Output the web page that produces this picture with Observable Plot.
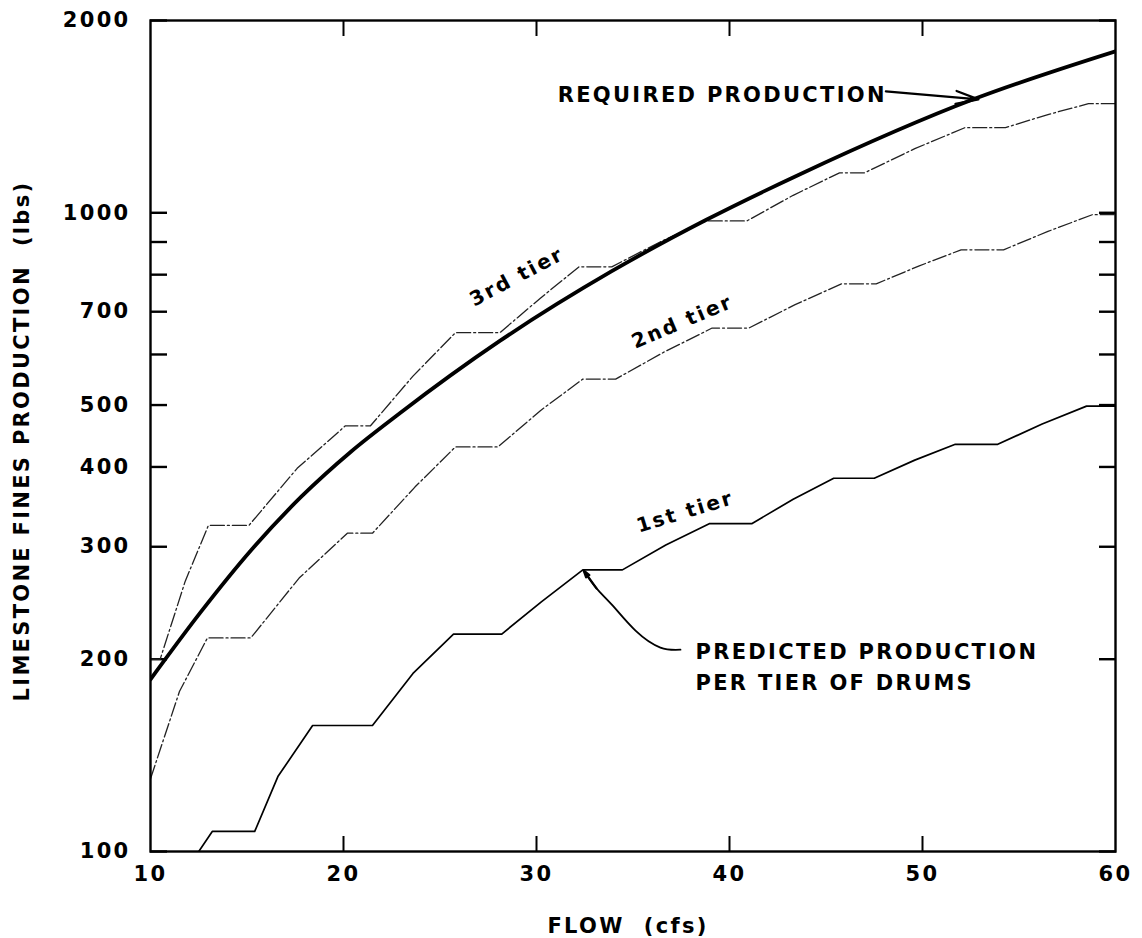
<!DOCTYPE html>
<html><head><meta charset="utf-8">
<script src="https://cdn.jsdelivr.net/npm/d3@7"></script>
<script src="https://cdn.jsdelivr.net/npm/@observablehq/plot@0.6"></script>
<style>
html,body{margin:0;padding:0;background:#fff;}
#chart svg{display:block;}
</style></head><body><div id="chart"></div>
<script>
// ---- data ----
const requiredFlow = [10, 12.6, 15.2, 17.8, 20.4, 22.9, 28.1, 33.9, 38.8, 43.6, 52.7, 60];
const requiredLbs  = [186, 237, 296, 359, 423, 485, 630, 810, 975, 1147, 1508, 1790];

const tier3Flow = [10, 10.5, 11.8, 13.0, 15.1, 17.6, 20.1, 21.4, 23.6, 25.8, 28.1, 30.2, 32.2, 33.9, 36.4, 38.8, 40.9, 43.3, 45.7, 47.0, 49.6, 52.2, 54.3, 56.5, 58.6, 60];
const tier3Lbs  = [200, 200, 265, 324, 324, 398, 464, 464, 555, 649, 649, 735, 823, 823, 900, 971, 971, 1065, 1155, 1155, 1260, 1359, 1359, 1425, 1482, 1482];

const tier2Flow = [10, 11.5, 12.95, 15.2, 17.7, 20.2, 21.5, 23.7, 25.8, 28.0, 30.2, 32.4, 34.1, 36.6, 39.1, 41.0, 43.4, 45.8, 47.6, 49.8, 52.0, 54.2, 56.5, 58.8, 60];
const tier2Lbs  = [130, 178, 216, 216, 268, 315, 315, 372, 430, 430, 490, 549, 549, 605, 660, 660, 718, 774, 774, 825, 875, 875, 935, 993, 993];

const tier1Flow = [12.5, 13.2, 15.4, 16.6, 18.4, 21.5, 23.6, 25.7, 28.2, 30.25, 32.4, 34.45, 36.7, 38.95, 41.15, 43.3, 45.4, 47.5, 49.6, 51.7, 53.9, 56.2, 58.5, 60];
const tier1Lbs  = [100, 107.5, 107.5, 131, 157.5, 157.5, 190, 219, 219, 246, 276, 276, 302, 326, 326, 356, 384, 384, 410, 434, 434, 467, 498, 498];

const xTickValues  = [20, 30, 40, 50];
const xTickLabels  = [10, 20, 30, 40, 50, 60];
const yTickValues  = [100, 200, 300, 400, 500, 600, 700, 800, 900, 1000, 2000];
const yTickLabels  = [100, 200, 300, 400, 500, 700, 1000, 2000];

const tierNames  = ["3rd tier", "2nd tier", "1st tier"];
const tierLabelX = [28.98, 37.56, 37.7];
const tierLabelY = [794, 675, 340];
const tierAngle  = [-28, -23, -17];

const noteText = ["REQUIRED PRODUCTION", "PREDICTED PRODUCTION\nPER TIER OF DRUMS"];
const noteX = [31.1, 38.24];
const noteY = [1547, 196];

// leader from "REQUIRED PRODUCTION" to the curve
const reqArrowX = [48.1, 52.9];
const reqArrowY = [1549, 1505];
// curved leader from "PREDICTED PRODUCTION" to the 1st tier
const predLeaderX = [37.46, 36.42, 35.13, 33.94, 33.11, 32.44];
const predLeaderY = [207, 208.6, 221.7, 242.8, 258.2, 275.4];

// ---- tables ----
const zip = (xs, ys) => xs.map((x, i) => ({x, y: ys[i]}));
const required = zip(requiredFlow, requiredLbs);
const tier3 = zip(tier3Flow, tier3Lbs);
const tier2 = zip(tier2Flow, tier2Lbs);
const tier1 = zip(tier1Flow, tier1Lbs);
const tierLabels = tierNames.map((t, i) => ({text: t, x: tierLabelX[i], y: tierLabelY[i], a: tierAngle[i]}));
const notes = noteText.map((t, i) => ({text: t, x: noteX[i], y: noteY[i]}));
const predLeader = zip(predLeaderX, predLeaderY);
const n = predLeader.length;
const arrowHeads = [
  {x1: reqArrowX[0], y1: reqArrowY[0], x2: reqArrowX[1], y2: reqArrowY[1]},
  {x1: predLeader[n - 2].x, y1: predLeader[n - 2].y, x2: predLeader[n - 1].x, y2: predLeader[n - 1].y}
];

const fmt = d => String(d);

const chart = Plot.plot({
  width: 1142,
  height: 938,
  marginLeft: 150,
  marginRight: 27,
  marginTop: 20,
  marginBottom: 87,
  style: {
    fontFamily: "'DejaVu Sans', sans-serif",
    fontSize: "21px",
    fontWeight: "bold",
    color: "#000",
    background: "#fff",
    letterSpacing: "2.3px"
  },
  x: {domain: [10, 60]},
  y: {type: "log", domain: [100, 2000]},
  marks: [
    // inward ticks
    Plot.axisY(yTickValues, {anchor: "left", tickSize: -17, strokeWidth: 2.4, text: null, label: null}),
    Plot.axisY(yTickValues, {anchor: "right", tickSize: -17, strokeWidth: 2.4, text: null, label: null}),
    Plot.axisX(xTickValues, {anchor: "bottom", tickSize: -15, strokeWidth: 2, text: null, label: null}),
    Plot.axisX(xTickValues, {anchor: "top", tickSize: -15, strokeWidth: 2, text: null, label: null}),
    // tick labels
    Plot.axisY(yTickLabels, {anchor: "left", tickSize: 0, tickPadding: 20, tickFormat: fmt, label: null}),
    Plot.axisX(xTickLabels, {anchor: "bottom", tickSize: 0, tickPadding: 15, tickFormat: fmt, label: null}),
    // axis titles
    Plot.text(["LIMESTONE FINES PRODUCTION\u00a0\u00a0(lbs)"], {text: d => d, frameAnchor: "left", dx: -128, dy: 5, rotate: -90, textAnchor: "middle", lineAnchor: "middle"}),
    Plot.text(["FLOW\u00a0\u00a0(cfs)"], {text: d => d, frameAnchor: "bottom", dx: -5, dy: 75, textAnchor: "middle", lineAnchor: "middle"}),
    // curves
    Plot.line(tier3, {x: "x", y: "y", stroke: "#222", strokeWidth: 1.3, strokeDasharray: "14,3,2,3", clip: true}),
    Plot.line(tier2, {x: "x", y: "y", stroke: "#222", strokeWidth: 1.3, strokeDasharray: "14,3,2,3", clip: true}),
    Plot.line(tier1, {x: "x", y: "y", stroke: "#000", strokeWidth: 1.7, clip: true}),
    Plot.line(required, {x: "x", y: "y", curve: "monotone-x", stroke: "#000", strokeWidth: 3.8, clip: true}),
    // annotations
    Plot.text(tierLabels, {x: "x", y: "y", text: "text", rotate: "a", textAnchor: "middle", lineAnchor: "middle", fontSize: 20}),
    Plot.text(notes, {x: "x", y: "y", text: "text", textAnchor: "start", lineAnchor: "middle", lineHeight: 1.48}),
    Plot.line(predLeader, {x: "x", y: "y", curve: "natural", stroke: "#000", strokeWidth: 1.8}),
    Plot.arrow(arrowHeads, {x1: "x1", y1: "y1", x2: "x2", y2: "y2", stroke: "#000", strokeWidth: 2.2, headLength: 16, headAngle: 32}),
    Plot.frame({stroke: "#000", strokeWidth: 2.4})
  ]
});
document.getElementById("chart").appendChild(chart);
</script>
</body></html>
